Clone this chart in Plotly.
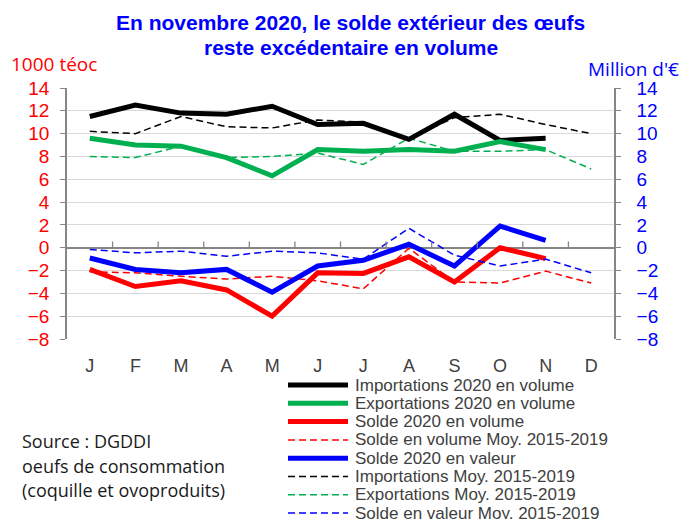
import plotly.graph_objects as go

months = ["J", "F", "M", "A", "M", "J", "J", "A", "S", "O", "N", "D"]

imports_2020 = [11.5, 12.5, 11.8, 11.7, 12.4, 10.8, 10.9, 9.5, 11.7, 9.4, 9.6, None]
exports_2020 = [9.6, 9.0, 8.9, 7.9, 6.3, 8.6, 8.45, 8.6, 8.45, 9.3, 8.6, None]
solde_vol_2020 = [-1.9, -3.4, -2.9, -3.7, -6.0, -2.2, -2.25, -0.8, -3.0, 0.0, -0.95, None]
solde_vol_moy = [-2.1, -2.2, -2.5, -2.75, -2.5, -2.9, -3.6, -0.05, -3.0, -3.1, -2.05, -3.1]
solde_val_2020 = [-0.9, -1.9, -2.2, -1.9, -3.9, -1.6, -1.1, 0.3, -1.6, 1.9, 0.65, None]
imports_moy = [10.2, 10.0, 11.5, 10.6, 10.5, 11.2, 11.0, 9.6, 11.4, 11.7, 10.8, 10.0]
exports_moy = [8.0, 7.9, 8.9, 7.9, 8.0, 8.3, 7.3, 9.6, 8.45, 8.45, 8.6, 6.9]
solde_val_moy = [-0.15, -0.45, -0.3, -0.75, -0.3, -0.45, -1.0, 1.7, -0.65, -1.6, -1.0, -2.2]

series_names = [
    "Importations 2020 en volume",
    "Exportations 2020 en volume",
    "Solde 2020 en volume",
    "Solde en volume Moy. 2015-2019",
    "Solde 2020 en valeur",
    "Importations Moy. 2015-2019",
    "Exportations Moy. 2015-2019",
    "Solde en valeur Moy. 2015-2019",
]
series_values = [imports_2020, exports_2020, solde_vol_2020, solde_vol_moy,
                 solde_val_2020, imports_moy, exports_moy, solde_val_moy]

title_lines = ["En novembre 2020, le solde extérieur des œufs", "reste excédentaire en volume"]
source_lines = ["Source : DGDDI", "oeufs de consommation", "(coquille et ovoproduits)"]

# styles
BLACK, GREEN, RED, BLUE = "#000000", "#00B050", "#FF0000", "#0000FF"
styles = [
    dict(color=BLACK, width=5, dash="solid", axis="y"),
    dict(color=GREEN, width=5, dash="solid", axis="y"),
    dict(color=RED, width=5, dash="solid", axis="y"),
    dict(color=RED, width=1.5, dash="7px,4px", axis="y"),
    dict(color=BLUE, width=5, dash="solid", axis="y2"),
    dict(color=BLACK, width=1.5, dash="7px,4px", axis="y"),
    dict(color=GREEN, width=1.5, dash="7px,4px", axis="y"),
    dict(color=BLUE, width=1.5, dash="7px,4px", axis="y2"),
]

W, H = 682, 519
PL, PR, PT, PB = 67, 614, 88, 339          # plot area in window pixels
L, R, T, B = PL, W - PR, PT, H - PB
PW, PH = PR - PL, PB - PT


def px(x):
    return (x - PL) / PW


def py(y):
    return (PB - y) / PH


x_idx = list(range(len(months)))
fig = go.Figure()
order = [3, 5, 6, 7, 0, 1, 2, 4]
for i in order:
    st = styles[i]
    fig.add_trace(go.Scatter(
        x=x_idx, y=series_values[i], name=series_names[i], mode="lines",
        line=dict(color=st["color"], width=st["width"], dash=st["dash"]),
        yaxis=st["axis"], showlegend=False, connectgaps=False,
    ))

AXC = "#868686"
GRID = "#d9d9d9"
FONT = "Liberation Sans"
FONT2 = "Open Sans"

annotations = []
shapes = []

for t, yc in zip(title_lines, [22, 48]):
    annotations.append(dict(text="<b>%s</b>" % t, x=px(351), y=py(yc), xref="paper", yref="paper",
                            xanchor="center", yanchor="middle", showarrow=False,
                            font=dict(family=FONT, size=21, color=BLUE)))
annotations.append(dict(text="1000 téoc", x=px(9), y=py(64), xref="paper", yref="paper",
                        xanchor="left", yanchor="middle", showarrow=False,
                        font=dict(family=FONT2, size=19, color=RED)))
annotations.append(dict(text="Million d'€", x=px(681), y=py(69), xref="paper", yref="paper",
                        xanchor="right", yanchor="middle", showarrow=False,
                        font=dict(family=FONT2, size=19, color=BLUE)))
for t, yc in zip(source_lines, [441, 466, 490]):
    annotations.append(dict(text=t, x=px(20), y=py(yc), xref="paper", yref="paper",
                            xanchor="left", yanchor="middle", showarrow=False,
                            font=dict(family=FONT2, size=18, color="#1a1a1a")))
leg_y = [385, 403.3, 421.6, 439.9, 458.2, 476.5, 494.8, 513.1]
for i, yc in enumerate(leg_y):
    st = styles[i]
    shapes.append(dict(type="line", xref="paper", yref="paper", x0=px(288), x1=px(348),
                       y0=py(yc), y1=py(yc),
                       line=dict(color=st["color"], width=st["width"], dash=st["dash"])))
    annotations.append(dict(text=series_names[i], x=px(353), y=py(yc), xref="paper", yref="paper",
                            xanchor="left", yanchor="middle", showarrow=False,
                            font=dict(family=FONT, size=17, color="#404040")))
for k in range(len(months) - 1):
    shapes.append(dict(type="line", xref="x", yref="y", x0=k + 0.5, x1=k + 0.5, y0=0, y1=0.55,
                       line=dict(color=AXC, width=1.3), layer="above"))

fig.update_layout(
    width=W, height=H, margin=dict(l=L, r=R, t=T, b=B, autoexpand=False),
    paper_bgcolor="white", plot_bgcolor="white",
    showlegend=False,
    xaxis=dict(range=[-0.5, 11.5], tickvals=x_idx, ticktext=months, showgrid=False,
               zeroline=False, showline=False, ticks="", automargin=False,
               tickfont=dict(family=FONT, size=18, color="#404040"), ticklabelstandoff=14),
    yaxis=dict(range=[-8, 14], dtick=2, tick0=0, showgrid=True, gridcolor=GRID, gridwidth=1.3,
               zeroline=True, zerolinecolor=AXC, zerolinewidth=1.5, automargin=False,
               showline=True, linecolor=AXC, linewidth=1.5,
               ticks="outside", ticklen=5, tickcolor=AXC, tickwidth=1.3,
               tickfont=dict(family=FONT, size=19, color=RED), ticklabelstandoff=7),
    yaxis2=dict(range=[-8, 14], dtick=2, tick0=0, overlaying="y", side="right",
                showgrid=False, zeroline=False, automargin=False,
                showline=True, linecolor=AXC, linewidth=1.5,
                ticks="outside", ticklen=5, tickcolor=AXC, tickwidth=1.3,
                tickfont=dict(family=FONT, size=19, color=BLUE), ticklabelstandoff=12),
    annotations=annotations, shapes=shapes,
)

fig.write_html(
    "out.html",
    config={"displayModeBar": False},
    post_script="document.body.style.margin='0';document.body.style.overflow='hidden';",
)
